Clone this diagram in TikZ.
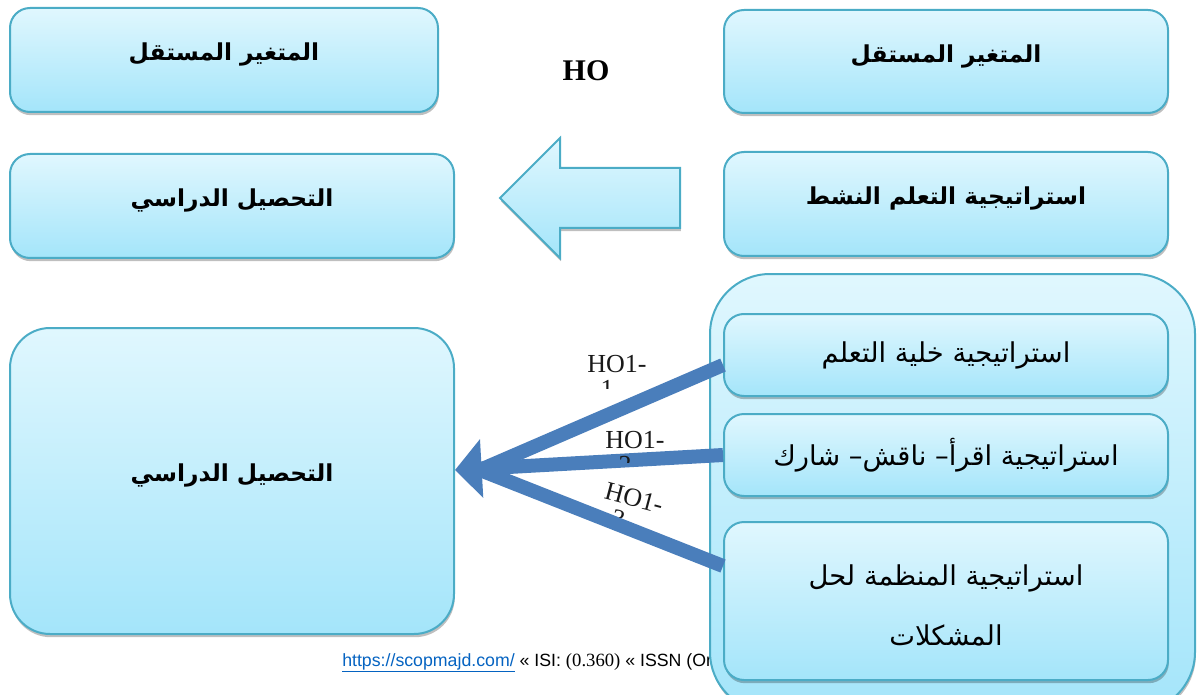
\documentclass[tikz,border=0pt]{standalone}
\usepackage{fontspec}
\setmainfont{Liberation Serif}
\newfontfamily\arabicfont[Script=Arabic]{DejaVu Sans}
\newfontfamily\sansf{Liberation Sans}
\TeXXeTstate=1
\usetikzlibrary{arrows.meta,shadows,calc}
\definecolor{bord}{RGB}{75,172,198}
\definecolor{ftop}{RGB}{224,247,254}
\definecolor{fbot}{RGB}{164,229,250}
\definecolor{lineblue}{RGB}{74,126,187}
\definecolor{linkblue}{RGB}{5,99,193}
\newcommand{\arB}[1]{\raisebox{4pt}[\height][\depth]{\beginR #1\endR}}
\tikzset{
  sbox/.style={draw=bord, line width=1.5pt, rounded corners=15pt, shading=axis,
    top color=ftop, bottom color=fbot, inner sep=0pt,
    drop shadow={shadow xshift=0.6pt, shadow yshift=-2.4pt, opacity=0.25, fill=black}},
  boldar/.style={font=\arabicfont\bfseries\fontsize{17.5}{20}\selectfont},
  regar/.style={font=\arabicfont\fontsize{20.5}{45}\selectfont, align=center},
  conn/.style={draw=lineblue, line width=10.5pt},
  lbl/.style={font=\rmfamily\fontsize{19.5}{22}\selectfont, inner sep=0pt, text=black!90},
}
\begin{document}
\begin{tikzpicture}[x=0.75pt,y=-0.75pt]
\useasboundingbox (0,0) rectangle (1202,695);
\clip (0,0) rectangle (1202,695);

% top row
\node[sbox, boldar, minimum width=321pt, minimum height=78pt] (A) at (224,60) {\arB{المتغير المستقل}};
\node[sbox, boldar, minimum width=333pt, minimum height=77.25pt] (B) at (946,61.5) {\arB{المتغير المستقل}};
\node[font=\rmfamily\bfseries\fontsize{22.5}{24}\selectfont, inner sep=0pt] (HO) at (586,71) {HO};

% second row
\node[sbox, boldar, minimum width=333pt, minimum height=78pt] (C) at (232,206) {\arB{التحصيل الدراسي}};
\node[sbox, boldar, minimum width=333pt, minimum height=78pt] (D) at (946,204) {\arB{استراتيجية التعلم النشط}};
\path[draw=bord, line width=1.5pt, shading=axis, top color=ftop, bottom color=fbot,
  drop shadow={shadow xshift=0.6pt, shadow yshift=-2.4pt, opacity=0.25, fill=black}]
  (500,198) -- (560,138) -- (560,168) -- (680,168) -- (680,228) -- (560,228) -- (560,258) -- cycle;

% footer (under the container)
\node[anchor=base west, inner sep=0pt, font=\sansf\fontsize{13.3}{15}\selectfont] (foot) at (342,666)
  {\textcolor{linkblue}{\underline{https://scopmajd.com/}} « ISI: {\rmfamily\fontsize{14}{15}\selectfont (0.360)} « ISSN (On};

% left big box
\node[sbox, boldar, rounded corners=30pt, minimum width=333pt, minimum height=229.5pt] (E) at (232,481) {\arB{التحصيل الدراسي}};

% container
\node[sbox, rounded corners=45pt, minimum width=363.75pt, minimum height=328.5pt] (F) at (952.5,493) {};

% inner boxes
\node[sbox, regar, minimum width=333pt, minimum height=61.5pt] (I1) at (946,355) {\beginR استراتيجية خلية التعلم\endR};
\node[sbox, regar, minimum width=333pt, minimum height=61.5pt] (I2) at (946,455) {\beginR استراتيجية اقرأ– ناقش– شارك\endR};
\node[sbox, regar, minimum width=333pt, minimum height=118.5pt] (I3) at (946,601) {\raisebox{-3pt}[\height][\depth]{\parbox{300pt}{\centering\beginR استراتيجية المنظمة لحل\endR\\\beginR المشكلات\endR}}};

% connectors
\coordinate (tip) at ($(E.east)+(0,-11)$);
\coordinate (j) at ($(tip)+(25,0)$);
\draw[conn] ($(I1.west)+(0,10)$) -- (j);
\draw[conn] ($(I3.west)+(0,-35)$) -- (j);
\draw[conn, -{Triangle[length=20pt,width=43pt]}] (I2.west) -- (tip);

% labels
\begin{scope}[shift={(617,372)}]
  \clip (-45,-30) rectangle (45,16);
  \node[lbl, anchor=base] (h1) at (0,0) {HO1-};
  \node[lbl, anchor=base] (h1b) at (-10,25) {1};
\end{scope}
\begin{scope}[shift={(635,448)}]
  \clip (-45,-30) rectangle (45,14);
  \node[lbl, anchor=base] (h2) at (0,0) {HO1-};
  \node[lbl, anchor=base] (h2b) at (-10,25) {2};
\end{scope}
\begin{scope}[shift={(632,506)}, rotate=-15]
  \clip (-45,-30) rectangle (45,14);
  \node[lbl, anchor=base, transform shape] (h3) at (0,0) {HO1-};
  \node[lbl, anchor=base, transform shape] (h3b) at (-10,25) {3};
\end{scope}
\end{tikzpicture}
\end{document}
